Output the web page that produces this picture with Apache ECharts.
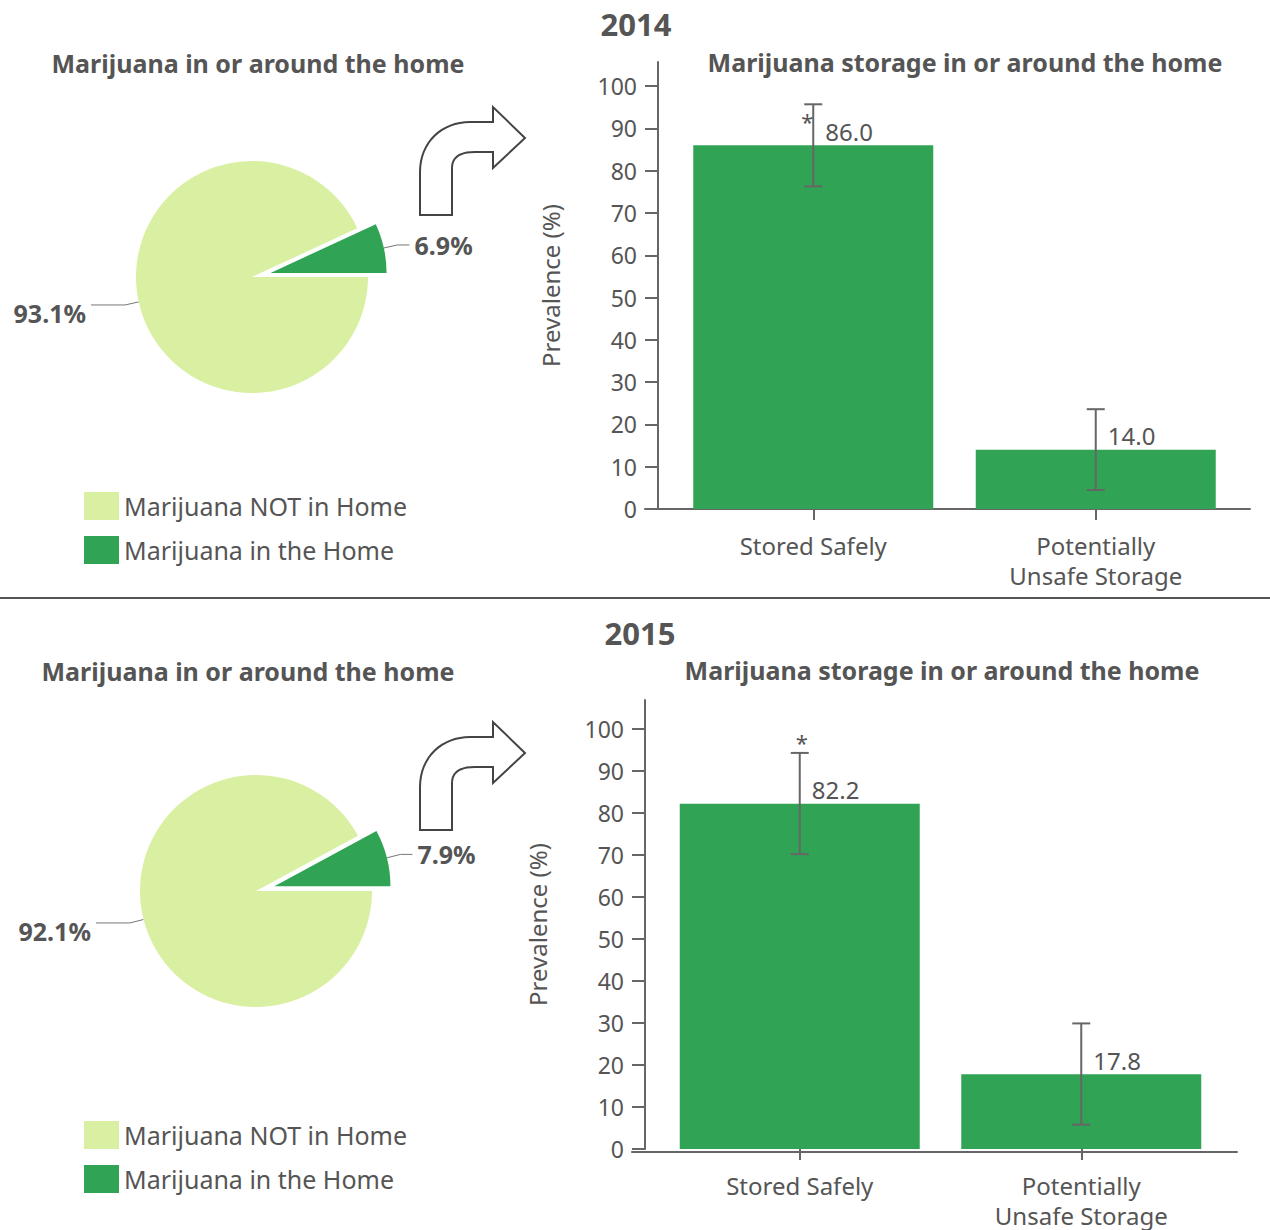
<!DOCTYPE html>
<html lang="en">
<head>
    <meta charset="UTF-8">
    <title>Marijuana storage in or around the home</title>
    <script src="https://cdn.jsdelivr.net/npm/echarts@6/dist/echarts.min.js"></script>
    <style>
        html, body { margin: 0; padding: 0; background: #fff; }
        #main { width: 1270px; height: 1230px; }
    </style>
</head>
<body>
<div id="main"></div>
<script type="text/javascript">
    // ---------- data ----------
    var years = ['2014', '2015'];
    var pieNames = ['Marijuana in the Home', 'Marijuana NOT in Home'];
    var pie2014 = [6.9, 93.1];
    var pie2015 = [7.9, 92.1];

    var barCategories = ['Stored Safely', 'Potentially\nUnsafe Storage'];
    var bar2014 = [86.0, 14.0];
    var bar2015 = [82.2, 17.8];
    var ciLow2014 = [76.3, 4.5];
    var ciHigh2014 = [95.7, 23.6];
    var ciLow2015 = [70.2, 5.8];
    var ciHigh2015 = [94.3, 29.9];
    var starred = [1, 0];
    var yTicks = [0, 10, 20, 30, 40, 50, 60, 70, 80, 90, 100];

    var pieTitle = 'Marijuana in or around the home';
    var barTitle = 'Marijuana storage in or around the home';
    var yName = 'Prevalence (%)';

    // ---------- style ----------
    var FONT = '"Noto Sans", sans-serif';
    var TXT = '#555';
    var AX = '#666';
    var DARK = '#31a354';
    var LIGHT = '#d9f0a3';

    function ciRows(vals, lo, hi) {
        return vals.map(function (v, i) { return [i, lo[i], hi[i], v, starred[i]]; });
    }

    function errorRender(starAbove) {
        return function (params, api) {
            var i = api.value(0);
            var lo = api.coord([i, api.value(1)]);
            var hi = api.coord([i, api.value(2)]);
            var top = api.coord([i, api.value(3)]);
            var cap = 9;
            var ls = { stroke: AX, lineWidth: 2 };
            var kids = [
                { type: 'line', shape: { x1: lo[0], y1: lo[1], x2: hi[0], y2: hi[1] }, style: ls },
                { type: 'line', shape: { x1: hi[0] - cap, y1: hi[1], x2: hi[0] + cap, y2: hi[1] }, style: ls },
                { type: 'line', shape: { x1: lo[0] - cap, y1: lo[1], x2: lo[0] + cap, y2: lo[1] }, style: ls },
                { type: 'text', x: top[0] + 12, y: top[1] - 14,
                  style: { text: api.value(3).toFixed(1), fill: TXT, font: '24px ' + FONT, align: 'left', verticalAlign: 'middle' } }
            ];
            if (api.value(4)) {
                kids.push({ type: 'text',
                    x: starAbove ? hi[0] + 2 : hi[0] - 6,
                    y: starAbove ? hi[1] - 11 : hi[1] + 17,
                    style: { text: '*', fill: TXT, font: '22px ' + FONT, align: 'center', verticalAlign: 'middle' } });
            }
            return { type: 'group', children: kids };
        };
    }

    function pctText(p) { return p.value.toFixed(1) + '%'; }

    function pieSeries(vals, center) {
        return {
            type: 'pie',
            center: center,
            radius: 116,
            startAngle: 0,
            clockwise: false,
            selectedMode: 'single',
            selectedOffset: 19,
            avoidLabelOverlap: false,
            animation: false,
            emphasis: { disabled: true },
            label: {
                fontSize: 25, fontWeight: 'bold', color: TXT, fontFamily: FONT
            },
            labelLine: { lineStyle: { color: '#777', width: 1 } },
            data: [
                { name: pieNames[0], value: vals[0], selected: true, itemStyle: { color: DARK },
                  label: { formatter: pctText },
                  labelLine: { length: 14, length2: 12 } },
                // empty first line drops the value a little below its leader line
                { name: pieNames[1], value: vals[1], itemStyle: { color: LIGHT },
                  label: { formatter: function (p) { return '\n' + pctText(p); }, lineHeight: 16 },
                  labelLine: { length: 14, length2: 34 } }
            ]
        };
    }

    function yAxisCfg(grid, max) {
        return {
            type: 'value', gridIndex: grid, min: 0, max: max, offset: 14,
            name: yName, nameLocation: 'middle', nameGap: 96,
            nameTextStyle: { fontSize: 24, color: TXT, fontFamily: FONT },
            axisLine: { show: true, lineStyle: { color: AX, width: 2 } },
            axisTick: { show: true, length: 13, customValues: yTicks, lineStyle: { color: AX, width: 2 } },
            axisLabel: { customValues: yTicks, fontSize: 23, color: TXT, fontFamily: FONT, margin: 21 },
            splitLine: { show: false }
        };
    }

    function xAxisCfg(grid) {
        return {
            type: 'category', gridIndex: grid, data: barCategories,
            axisLine: { show: false },
            axisTick: { show: true, alignWithLabel: true, length: 11, lineStyle: { color: AX, width: 2 } },
            axisLabel: { fontSize: 24, color: TXT, fontFamily: FONT, lineHeight: 30, margin: 21 }
        };
    }

    // plain value axis used only to draw the long baseline under each bar chart
    function baseAxisCfg(grid) {
        return {
            type: 'value', gridIndex: grid, min: 0, max: 1,
            axisLine: { show: true, onZero: false, lineStyle: { color: AX, width: 2 } },
            axisTick: { show: false }, axisLabel: { show: false }, splitLine: { show: false }
        };
    }

    function legendCfg(top) {
        return {
            orient: 'vertical', left: 79, top: top,
            data: [pieNames[1], pieNames[0]],
            icon: 'rect', itemWidth: 35, itemHeight: 28, itemGap: 16,
            selectedMode: false,
            textStyle: { fontSize: 25, color: TXT, fontFamily: FONT }
        };
    }

    function heading(text, x, y, size) {
        return { type: 'text', x: x, y: y,
            style: { text: text, fill: TXT, font: 'bold ' + size + 'px ' + FONT, align: 'center', verticalAlign: 'middle' } };
    }

    // curved "turn right" arrow outline, as polygon points relative to its top-left
    function bez(p0, p1, p2, p3, n) {
        var pts = [];
        for (var k = 1; k <= n; k++) {
            var t = k / n, u = 1 - t;
            pts.push([
                u * u * u * p0[0] + 3 * u * u * t * p1[0] + 3 * u * t * t * p2[0] + t * t * t * p3[0],
                u * u * u * p0[1] + 3 * u * u * t * p1[1] + 3 * u * t * t * p2[1] + t * t * t * p3[1]
            ]);
        }
        return pts;
    }
    var arrowPts = [[0, 108], [32, 108], [32, 61]]
        .concat(bez([32, 61], [32, 50], [40, 45], [55, 45], 10))
        .concat([[73, 45], [73, 61], [105, 31], [73, 0], [73, 15], [50, 15]])
        .concat(bez([50, 15], [22, 15], [0, 35], [0, 65], 16));

    function arrow(x, y) {
        return { type: 'polygon', x: x, y: y, shape: { points: arrowPts },
            style: { fill: '#fff', stroke: '#444', lineWidth: 2 } };
    }

    var myChart = echarts.init(document.getElementById('main'), null, { renderer: 'svg' });
    var option = {
        animation: false,
        backgroundColor: '#fff',
        grid: [
            { left: 672, top: 62, width: 565, height: 447 },
            { left: 659, top: 700, width: 563, height: 452 },
            { left: 645, top: 62, width: 605, height: 447 },
            { left: 632, top: 700, width: 605, height: 452 }
        ],
        xAxis: [xAxisCfg(0), xAxisCfg(1), baseAxisCfg(2), baseAxisCfg(3)],
        yAxis: [
            yAxisCfg(0, 105.7), yAxisCfg(1, 106.9),
            { type: 'value', gridIndex: 2, show: false },
            { type: 'value', gridIndex: 3, show: false }
        ],
        legend: [legendCfg(487), legendCfg(1116)],
        series: [
            pieSeries(pie2014, [252, 277]),
            pieSeries(pie2015, [256, 891]),
            { type: 'bar', xAxisIndex: 0, yAxisIndex: 0, data: bar2014, barWidth: 240,
              itemStyle: { color: DARK }, silent: true },
            { type: 'bar', xAxisIndex: 1, yAxisIndex: 1, data: bar2015, barWidth: 240,
              itemStyle: { color: DARK }, silent: true },
            { type: 'custom', xAxisIndex: 0, yAxisIndex: 0, data: ciRows(bar2014, ciLow2014, ciHigh2014),
              renderItem: errorRender(false), encode: { x: 0, y: [1, 2] }, silent: true, z: 5 },
            { type: 'custom', xAxisIndex: 1, yAxisIndex: 1, data: ciRows(bar2015, ciLow2015, ciHigh2015),
              renderItem: errorRender(true), encode: { x: 0, y: [1, 2] }, silent: true, z: 5 }
        ],
        graphic: [
            heading(years[0], 636, 24, 31),
            heading(barTitle, 965, 62, 25),
            heading(pieTitle, 258, 63, 25),
            heading(years[1], 640, 633, 31),
            heading(barTitle, 942, 670, 25),
            heading(pieTitle, 248, 671, 25),
            { type: 'line', shape: { x1: 0, y1: 598, x2: 1270, y2: 598 }, style: { stroke: '#555', lineWidth: 2 } },
            arrow(420, 107),
            arrow(420, 722)
        ]
    };
    myChart.setOption(option);
</script>
</body>
</html>
